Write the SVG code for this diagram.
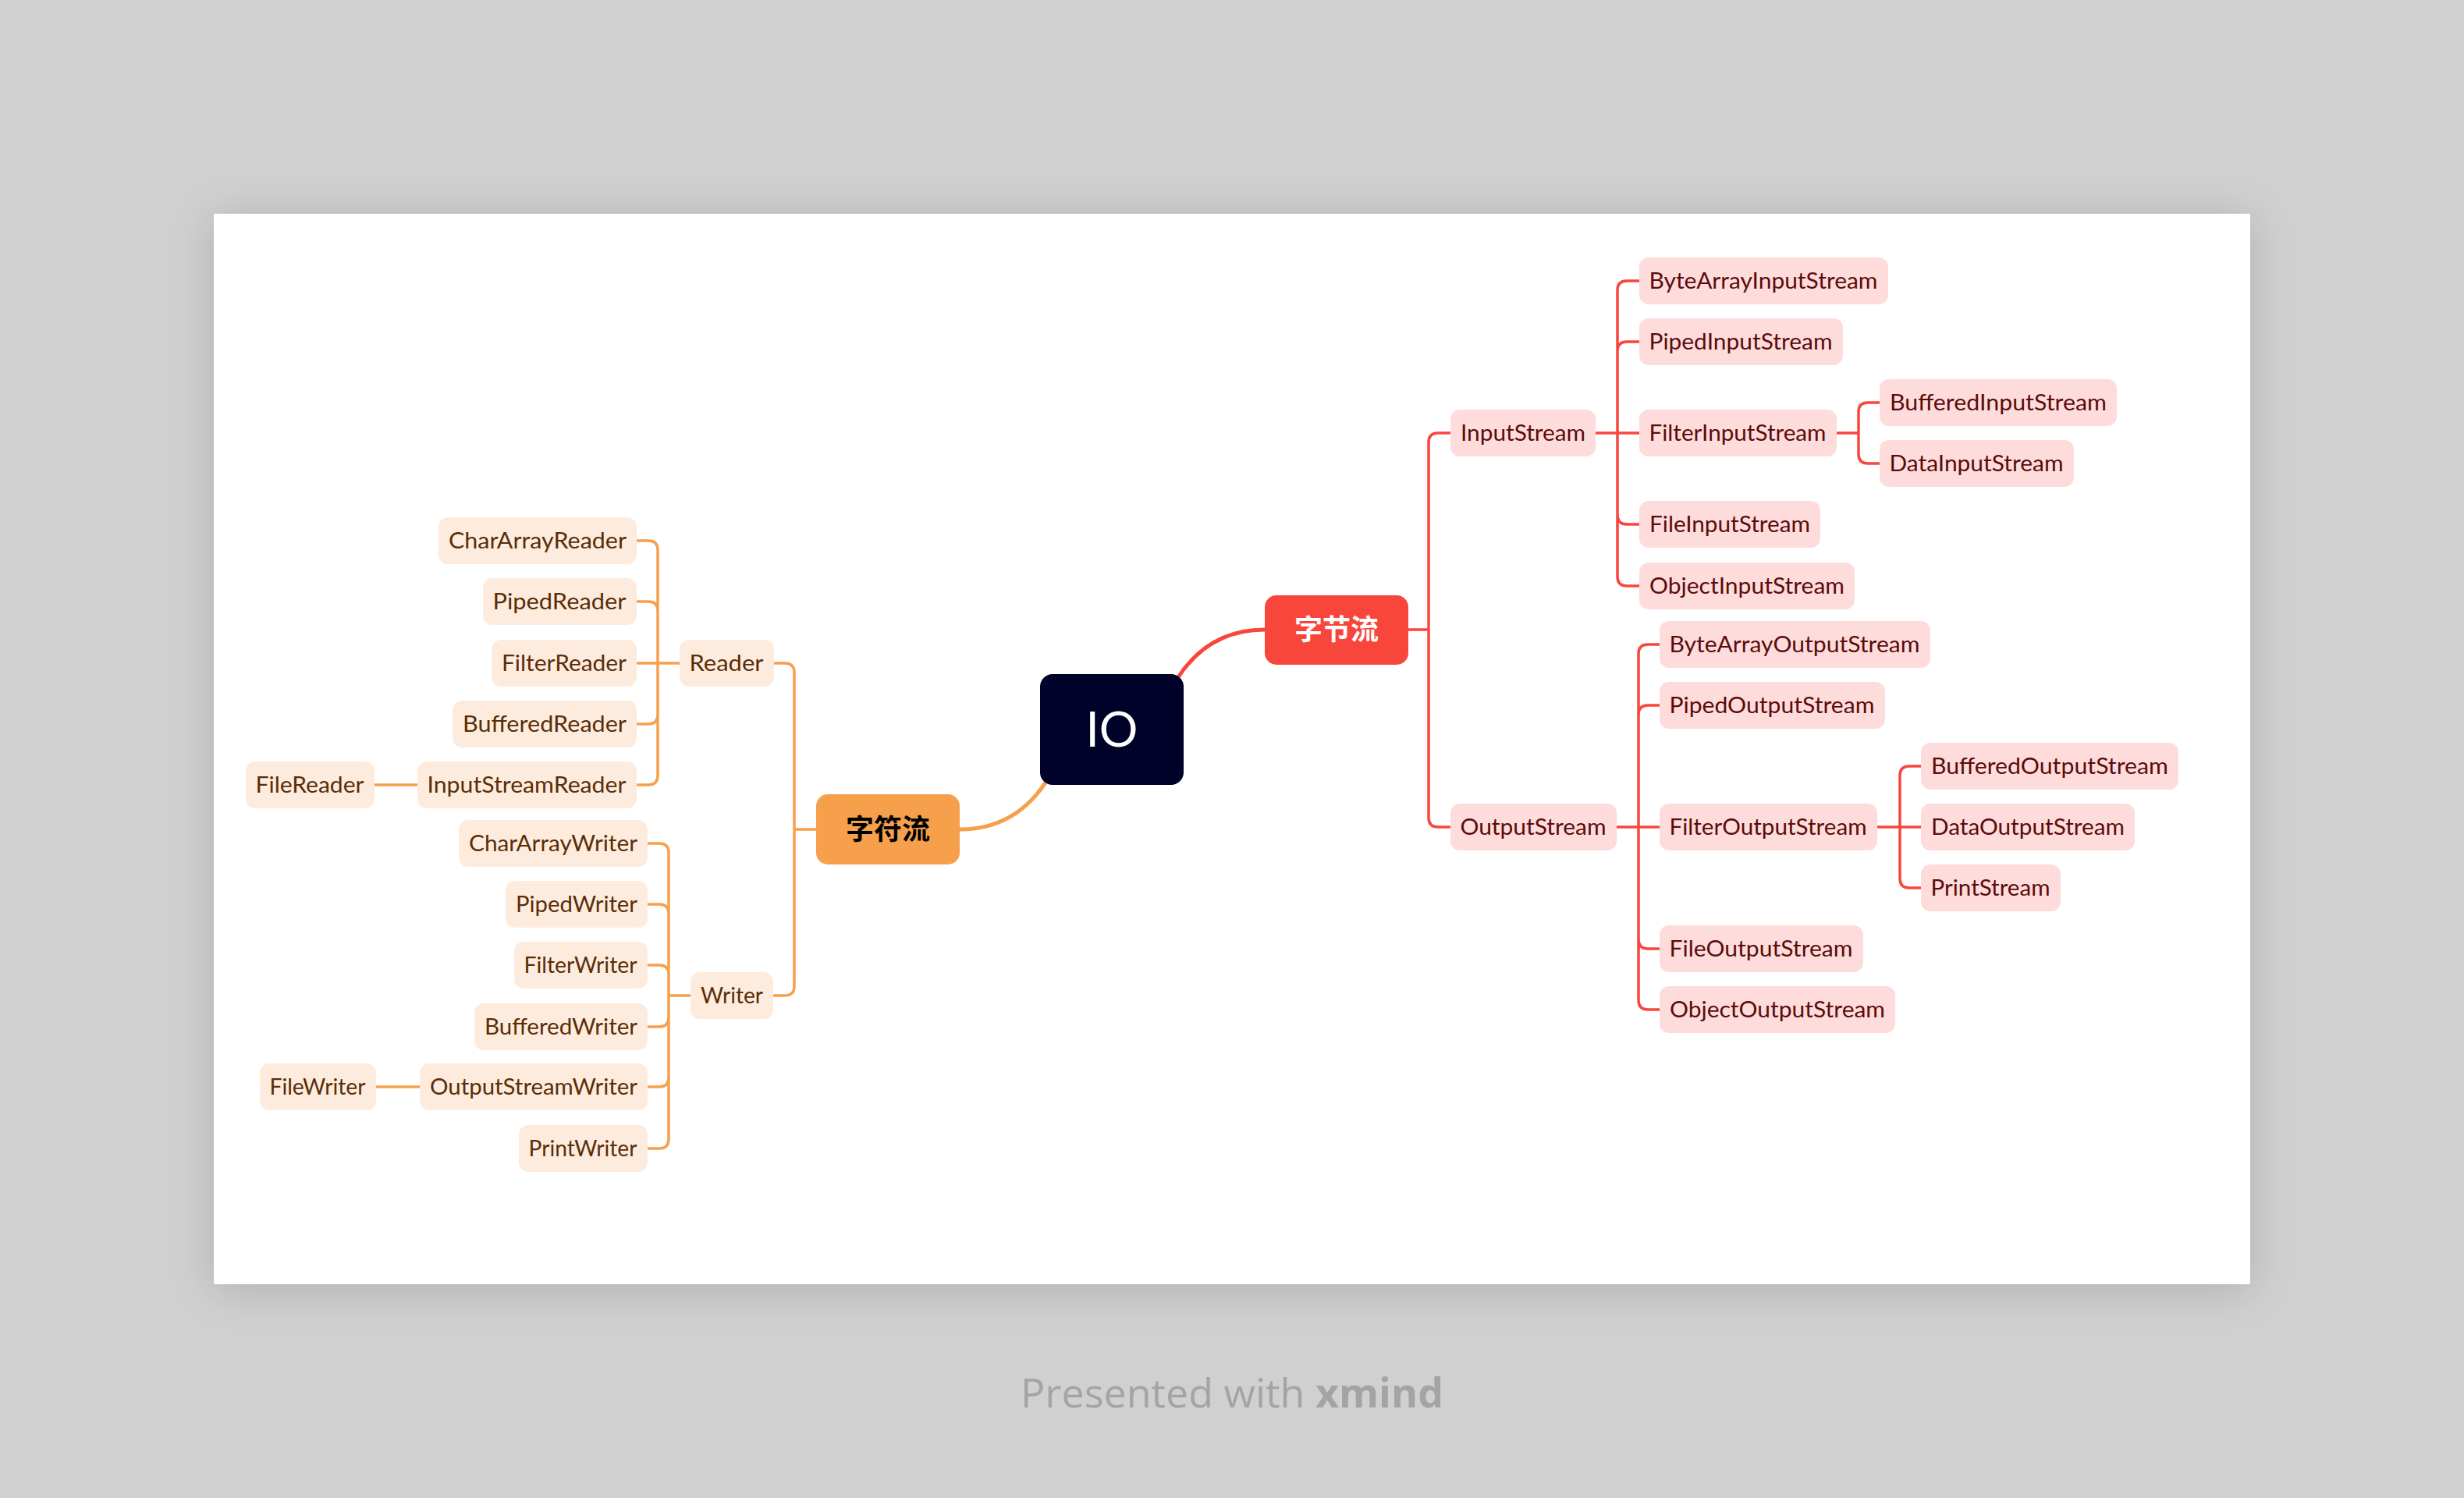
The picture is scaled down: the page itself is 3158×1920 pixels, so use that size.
<svg xmlns="http://www.w3.org/2000/svg" width="3158" height="1920" viewBox="0 0 3158 1920">
<defs>
<filter id="shadow" x="-10%" y="-10%" width="120%" height="125%">
<feDropShadow dx="0" dy="6" stdDeviation="28" flood-color="#000" flood-opacity="0.16"/>
</filter>
</defs>
<style>
.o{fill:#FDECDD}
.r{fill:#FDDCDB}
.ot{font-family:Lato,"Open Sans","Liberation Sans",sans-serif;font-size:29px;fill:#5A2D08;text-anchor:middle}
.rt{font-family:Lato,"Open Sans","Liberation Sans",sans-serif;font-size:29px;fill:#5C0B0B;text-anchor:middle}
.cj{font-family:"Noto Sans CJK SC","Noto Sans",sans-serif;font-size:36px;font-weight:bold;text-anchor:middle}
.lo{fill:none;stroke:#F7A04C;stroke-width:3.5;stroke-linecap:round;stroke-linejoin:round}
.lr{fill:none;stroke:#F9463D;stroke-width:3.5;stroke-linecap:round;stroke-linejoin:round}
.main{stroke-width:5}
</style>
<rect x="0" y="0" width="3158" height="1920" fill="#D0D0D0"/>
<rect x="274" y="274" width="2610" height="1372" fill="#FFFFFF" filter="url(#shadow)"/>
<text x="1579" y="1804" font-family="'Open Sans',Lato,'Liberation Sans',sans-serif" font-size="52" fill="#A4A4A4" text-anchor="middle">Presented with <tspan font-weight="bold">xmind</tspan></text>

<g id="connectors">
<path class="lr main" d="M1510,868 Q1550,807 1621,807"/>
<path class="lo main" d="M1340,1003 Q1300,1063 1230,1063"/>
<path class="lr" d="M1805,807 H1831 M1831,807 V567 Q1831,555 1843,555 H1859 M1831,807 V1048 Q1831,1060 1843,1060 H1859"/>
<path class="lr" d="M2045,555 H2073 M2073,555 V372 Q2073,360 2085,360 H2101 M2073,555 V450 Q2073,438 2085,438 H2101 M2073,555 H2101 M2073,555 V660 Q2073,672 2085,672 H2101 M2073,555 V739 Q2073,751 2085,751 H2101"/>
<path class="lr" d="M2354,555 H2382 M2382,555 V528 Q2382,516 2394,516 H2409 M2382,555 V582 Q2382,594 2394,594 H2409"/>
<path class="lr" d="M2072,1060 H2100 M2100,1060 V838 Q2100,826 2112,826 H2127 M2100,1060 V916 Q2100,904 2112,904 H2127 M2100,1060 H2127 M2100,1060 V1204 Q2100,1216 2112,1216 H2127 M2100,1060 V1282 Q2100,1294 2112,1294 H2127"/>
<path class="lr" d="M2406,1060 H2435 M2435,1060 V994 Q2435,982 2447,982 H2462 M2435,1060 H2462 M2435,1060 V1126 Q2435,1138 2447,1138 H2462"/>
<path class="lo" d="M1046,1063 H1018 M1018,1063 V862 Q1018,850 1006,850 H992 M1018,1063 V1264 Q1018,1276 1006,1276 H991"/>
<path class="lo" d="M871,850 H843 M843,850 V705 Q843,693 831,693 H816 M843,850 V783 Q843,771 831,771 H816 M843,850 H816 M843,850 V916 Q843,928 831,928 H816 M843,850 V994 Q843,1006 831,1006 H816"/>
<path class="lo" d="M535,1006 H480"/>
<path class="lo" d="M885,1276 H857 M857,1276 V1093 Q857,1081 845,1081 H830 M857,1276 V1171 Q857,1159 845,1159 H830 M857,1276 V1249 Q857,1237 845,1237 H830 M857,1276 V1304 Q857,1316 845,1316 H830 M857,1276 V1381 Q857,1393 845,1393 H830 M857,1276 V1460 Q857,1472 845,1472 H830"/>
<path class="lo" d="M538,1393 H482"/>
</g>

<g id="n-io"><rect x="1333" y="864" width="184" height="142" rx="16" fill="#00022A"/><text x="1425" y="957" font-family="Lato,'Open Sans','Liberation Sans',sans-serif" font-size="62" fill="#FFFFFF" text-anchor="middle">IO</text></g>
<g id="n-zijieliu"><rect x="1621" y="763" width="184" height="89" rx="15" fill="#F9463D"/><text class="cj" x="1713" y="820" fill="#FFFFFF">字节流</text></g>
<g id="n-zifuliu"><rect x="1046" y="1018" width="184" height="90" rx="15" fill="#F6A04C"/><text class="cj" x="1138" y="1076" fill="#000000">字符流</text></g>

<g id="n-inputstream"><rect class="r" x="1859" y="525" width="186" height="60" rx="12"/><text class="rt" x="1952" y="565" textLength="160" lengthAdjust="spacingAndGlyphs">InputStream</text></g>
<g id="n-outputstream"><rect class="r" x="1859" y="1030" width="213" height="60" rx="12"/><text class="rt" x="1965" y="1070" textLength="187" lengthAdjust="spacingAndGlyphs">OutputStream</text></g>
<g id="n-bytearrayinputstream"><rect class="r" x="2101" y="330" width="319" height="60" rx="12"/><text class="rt" x="2260" y="370" textLength="293" lengthAdjust="spacingAndGlyphs">ByteArrayInputStream</text></g>
<g id="n-pipedinputstream"><rect class="r" x="2101" y="408" width="261" height="60" rx="12"/><text class="rt" x="2231" y="448" textLength="235" lengthAdjust="spacingAndGlyphs">PipedInputStream</text></g>
<g id="n-filterinputstream"><rect class="r" x="2101" y="525" width="253" height="60" rx="12"/><text class="rt" x="2227" y="565" textLength="227" lengthAdjust="spacingAndGlyphs">FilterInputStream</text></g>
<g id="n-fileinputstream"><rect class="r" x="2101" y="642" width="232" height="60" rx="12"/><text class="rt" x="2217" y="682" textLength="206" lengthAdjust="spacingAndGlyphs">FileInputStream</text></g>
<g id="n-objectinputstream"><rect class="r" x="2101" y="721" width="276" height="60" rx="12"/><text class="rt" x="2239" y="761" textLength="250" lengthAdjust="spacingAndGlyphs">ObjectInputStream</text></g>
<g id="n-bufferedinputstream"><rect class="r" x="2409" y="486" width="304" height="60" rx="12"/><text class="rt" x="2561" y="526" textLength="278" lengthAdjust="spacingAndGlyphs">BufferedInputStream</text></g>
<g id="n-datainputstream"><rect class="r" x="2409" y="564" width="249" height="60" rx="12"/><text class="rt" x="2533" y="604" textLength="223" lengthAdjust="spacingAndGlyphs">DataInputStream</text></g>
<g id="n-bytearrayoutputstream"><rect class="r" x="2127" y="796" width="347" height="60" rx="12"/><text class="rt" x="2300" y="836" textLength="321" lengthAdjust="spacingAndGlyphs">ByteArrayOutputStream</text></g>
<g id="n-pipedoutputstream"><rect class="r" x="2127" y="874" width="289" height="60" rx="12"/><text class="rt" x="2271" y="914" textLength="263" lengthAdjust="spacingAndGlyphs">PipedOutputStream</text></g>
<g id="n-filteroutputstream"><rect class="r" x="2127" y="1030" width="279" height="60" rx="12"/><text class="rt" x="2266" y="1070" textLength="253" lengthAdjust="spacingAndGlyphs">FilterOutputStream</text></g>
<g id="n-fileoutputstream"><rect class="r" x="2127" y="1186" width="261" height="60" rx="12"/><text class="rt" x="2257" y="1226" textLength="235" lengthAdjust="spacingAndGlyphs">FileOutputStream</text></g>
<g id="n-objectoutputstream"><rect class="r" x="2127" y="1264" width="302" height="60" rx="12"/><text class="rt" x="2278" y="1304" textLength="276" lengthAdjust="spacingAndGlyphs">ObjectOutputStream</text></g>
<g id="n-bufferedoutputstream"><rect class="r" x="2462" y="952" width="330" height="60" rx="12"/><text class="rt" x="2627" y="992" textLength="304" lengthAdjust="spacingAndGlyphs">BufferedOutputStream</text></g>
<g id="n-dataoutputstream"><rect class="r" x="2462" y="1030" width="274" height="60" rx="12"/><text class="rt" x="2599" y="1070" textLength="248" lengthAdjust="spacingAndGlyphs">DataOutputStream</text></g>
<g id="n-printstream"><rect class="r" x="2462" y="1108" width="179" height="60" rx="12"/><text class="rt" x="2551" y="1148" textLength="153" lengthAdjust="spacingAndGlyphs">PrintStream</text></g>

<g id="n-reader"><rect class="o" x="871" y="820" width="121" height="60" rx="12"/><text class="ot" x="931" y="860" textLength="95" lengthAdjust="spacingAndGlyphs">Reader</text></g>
<g id="n-writer"><rect class="o" x="885" y="1246" width="106" height="60" rx="12"/><text class="ot" x="938" y="1286" textLength="80" lengthAdjust="spacingAndGlyphs">Writer</text></g>
<g id="n-chararrayreader"><rect class="o" x="562" y="663" width="254" height="60" rx="12"/><text class="ot" x="689" y="703" textLength="228" lengthAdjust="spacingAndGlyphs">CharArrayReader</text></g>
<g id="n-pipedreader"><rect class="o" x="619" y="741" width="197" height="60" rx="12"/><text class="ot" x="717" y="781" textLength="171" lengthAdjust="spacingAndGlyphs">PipedReader</text></g>
<g id="n-filterreader"><rect class="o" x="630" y="820" width="186" height="60" rx="12"/><text class="ot" x="723" y="860" textLength="160" lengthAdjust="spacingAndGlyphs">FilterReader</text></g>
<g id="n-bufferedreader"><rect class="o" x="580" y="898" width="236" height="60" rx="12"/><text class="ot" x="698" y="938" textLength="210" lengthAdjust="spacingAndGlyphs">BufferedReader</text></g>
<g id="n-inputstreamreader"><rect class="o" x="535" y="976" width="281" height="60" rx="12"/><text class="ot" x="675" y="1016" textLength="255" lengthAdjust="spacingAndGlyphs">InputStreamReader</text></g>
<g id="n-filereader"><rect class="o" x="315" y="976" width="165" height="60" rx="12"/><text class="ot" x="397" y="1016" textLength="139" lengthAdjust="spacingAndGlyphs">FileReader</text></g>
<g id="n-chararraywriter"><rect class="o" x="588" y="1051" width="242" height="60" rx="12"/><text class="ot" x="709" y="1091" textLength="216" lengthAdjust="spacingAndGlyphs">CharArrayWriter</text></g>
<g id="n-pipedwriter"><rect class="o" x="648" y="1129" width="182" height="60" rx="12"/><text class="ot" x="739" y="1169" textLength="156" lengthAdjust="spacingAndGlyphs">PipedWriter</text></g>
<g id="n-filterwriter"><rect class="o" x="659" y="1207" width="171" height="60" rx="12"/><text class="ot" x="744" y="1247" textLength="145" lengthAdjust="spacingAndGlyphs">FilterWriter</text></g>
<g id="n-bufferedwriter"><rect class="o" x="608" y="1286" width="222" height="60" rx="12"/><text class="ot" x="719" y="1326" textLength="196" lengthAdjust="spacingAndGlyphs">BufferedWriter</text></g>
<g id="n-outputstreamwriter"><rect class="o" x="538" y="1363" width="292" height="60" rx="12"/><text class="ot" x="684" y="1403" textLength="266" lengthAdjust="spacingAndGlyphs">OutputStreamWriter</text></g>
<g id="n-filewriter"><rect class="o" x="333" y="1363" width="149" height="60" rx="12"/><text class="ot" x="407" y="1403" textLength="123" lengthAdjust="spacingAndGlyphs">FileWriter</text></g>
<g id="n-printwriter"><rect class="o" x="665" y="1442" width="165" height="60" rx="12"/><text class="ot" x="747" y="1482" textLength="139" lengthAdjust="spacingAndGlyphs">PrintWriter</text></g>
</svg>
